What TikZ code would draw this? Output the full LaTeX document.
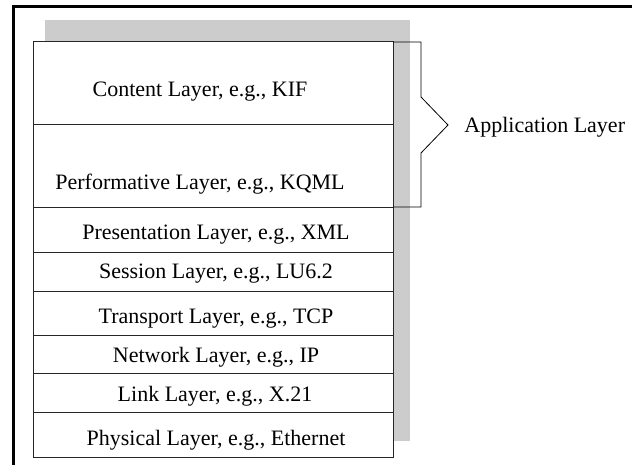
\documentclass[tikz,border=0pt]{standalone}
\usepackage{fontspec}
\setmainfont{Liberation Serif}
\usetikzlibrary{calc}

\begin{document}
\begin{tikzpicture}[x=.5pt, y=-.5pt]
    \tikzstyle{layer} = [font=\fontsize{11}{13}\selectfont, inner sep=0pt]
    \tikzstyle{divider} = [draw=black!85, line width=.5pt]

    \useasboundingbox (0, 0) rectangle (632, 465);

    % Frame --------------------------------------------
    \draw[line width=1.5pt] (13.5, 465) -- (13.5, 7) -- (632, 7);

    % Stack --------------------------------------------
    \coordinate (top) at (33, 42);
    \coordinate (bottom) at (393, 457);
    \fill[black!20] ($(top) + (12, -22)$) rectangle ($(bottom) + (17, -16)$);
    \draw[divider, fill=white] (top) rectangle (bottom);

    \draw[divider] (33, 125) -- (393, 125);
    \draw[divider] (33, 207) -- (393, 207);
    \draw[divider] (33, 252) -- (393, 252);
    \draw[divider] (33, 291) -- (393, 291);
    \draw[divider] (33, 335) -- (393, 335);
    \draw[divider] (33, 373) -- (393, 373);
    \draw[divider] (33, 412) -- (393, 412);

    % Layers
    \node (content) at (200, 92) [layer] {Content Layer, e.g., KIF};
    \node (perform) at (200, 184) [layer] {Performative Layer, e.g., KQML};
    \node (present) at (216, 235) [layer] {Presentation Layer, e.g., XML};
    \node (session) at (216, 274) [layer] {Session Layer, e.g., LU6.2};
    \node (transport) at (216, 319) [layer] {Transport Layer, e.g., TCP};
    \node (network) at (216, 357) [layer] {Network Layer, e.g., IP};
    \node (link) at (215, 396) [layer] {Link Layer, e.g., X.21};
    \node (physical) at (216, 440) [layer] {Physical Layer, e.g., Ethernet};
    % ---------------------------------------------------

    % Application bracket
    \node (app) at (464, 127) [layer, right] {Application Layer};
    \coordinate (tip) at (448, 125);

    \draw (393, 42) -- (421, 42) -- (421, 97) -- (tip) -- (421, 153)
        -- (421, 207) -- (393, 207);
\end{tikzpicture}
\end{document}
